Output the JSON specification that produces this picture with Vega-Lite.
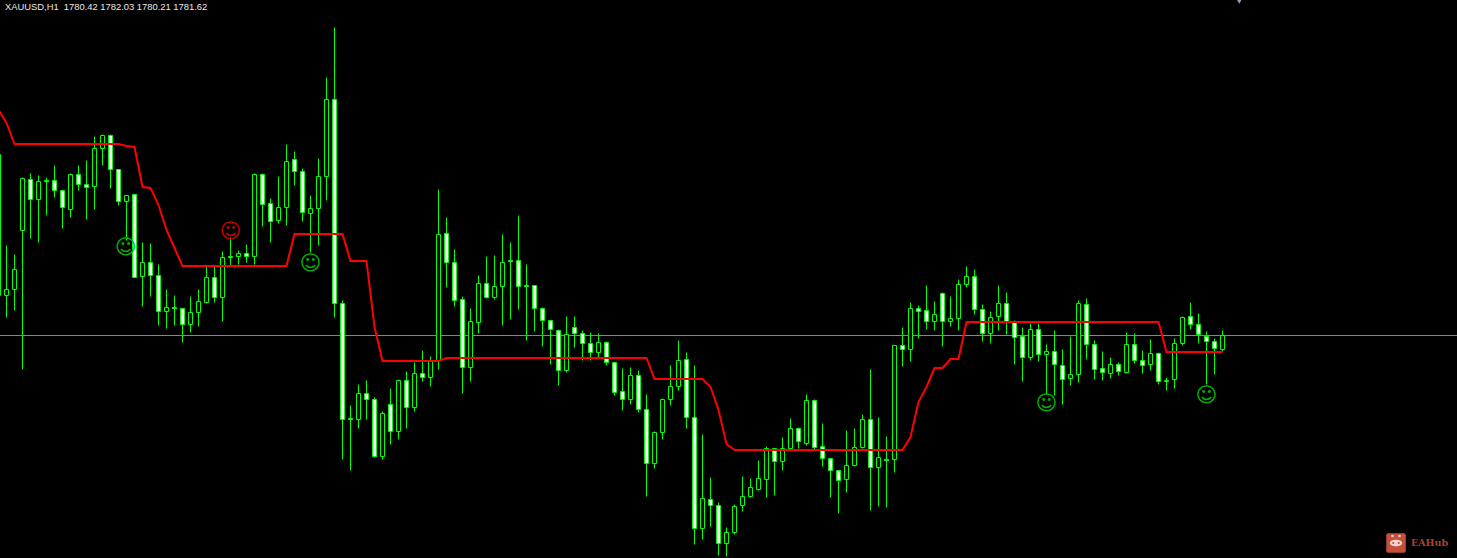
{"$schema":"https://vega.github.io/schema/vega-lite/v6.json","width":1457,"height":558,"padding":0,"autosize":"none","background":"#000000","config":{"view":{"stroke":null},"scale":{"continuousPadding":0}},
"datasets":{"candles":[
{"bar":-1,"open":1785.18,"high":1797.71,"low":1785.18,"close":1797.71,"ma":1801.62},
{"bar":0,"open":1785.18,"high":1789.62,"low":1783.22,"close":1785.71,"ma":1800.47},
{"bar":1,"open":1785.71,"high":1788.82,"low":1783.84,"close":1787.49,"ma":1798.6},
{"bar":2,"open":1790.96,"high":1795.67,"low":1778.6,"close":1795.58,"ma":1798.6},
{"bar":3,"open":1795.49,"high":1796.02,"low":1790.24,"close":1793.71,"ma":1798.6},
{"bar":4,"open":1793.71,"high":1795.84,"low":1789.89,"close":1795.31,"ma":1798.6},
{"bar":5,"open":1795.4,"high":1795.67,"low":1792.29,"close":1795.31,"ma":1798.6},
{"bar":6,"open":1795.4,"high":1796.73,"low":1793.89,"close":1794.51,"ma":1798.6},
{"bar":7,"open":1794.51,"high":1794.51,"low":1791.13,"close":1793.0,"ma":1798.6},
{"bar":8,"open":1792.82,"high":1796.02,"low":1792.11,"close":1795.93,"ma":1798.6},
{"bar":9,"open":1795.93,"high":1796.73,"low":1794.51,"close":1795.04,"ma":1798.6},
{"bar":10,"open":1795.04,"high":1797.18,"low":1791.93,"close":1794.78,"ma":1798.6},
{"bar":11,"open":1794.87,"high":1799.31,"low":1792.82,"close":1798.24,"ma":1798.6},
{"bar":12,"open":1798.24,"high":1799.49,"low":1796.73,"close":1799.4,"ma":1798.6},
{"bar":13,"open":1799.4,"high":1799.49,"low":1794.69,"close":1796.38,"ma":1798.6},
{"bar":14,"open":1796.38,"high":1796.38,"low":1793.18,"close":1793.53,"ma":1798.6},
{"bar":15,"open":1793.53,"high":1794.07,"low":1790.07,"close":1794.07,"ma":1798.38},
{"bar":16,"open":1794.16,"high":1794.16,"low":1786.78,"close":1786.78,"ma":1798.33},
{"bar":17,"open":1786.87,"high":1789.89,"low":1784.2,"close":1788.11,"ma":1794.78},
{"bar":18,"open":1788.11,"high":1789.8,"low":1785.09,"close":1786.96,"ma":1794.69},
{"bar":19,"open":1786.96,"high":1787.93,"low":1782.51,"close":1783.76,"ma":1793.18},
{"bar":20,"open":1783.76,"high":1785.71,"low":1782.24,"close":1784.11,"ma":1790.96},
{"bar":21,"open":1784.11,"high":1785.18,"low":1782.51,"close":1784.02,"ma":1789.36},
{"bar":22,"open":1784.02,"high":1784.02,"low":1781.0,"close":1782.6,"ma":1787.76},
{"bar":23,"open":1782.6,"high":1785.09,"low":1781.89,"close":1783.67,"ma":1787.76},
{"bar":24,"open":1783.67,"high":1785.71,"low":1782.42,"close":1784.64,"ma":1787.76},
{"bar":25,"open":1784.56,"high":1787.76,"low":1784.47,"close":1786.78,"ma":1787.76},
{"bar":26,"open":1786.78,"high":1787.76,"low":1784.56,"close":1785.0,"ma":1787.76},
{"bar":27,"open":1785.0,"high":1789.09,"low":1782.87,"close":1788.56,"ma":1787.76},
{"bar":28,"open":1788.64,"high":1790.33,"low":1787.84,"close":1788.56,"ma":1787.76},
{"bar":29,"open":1788.64,"high":1789.18,"low":1787.93,"close":1788.91,"ma":1787.76},
{"bar":30,"open":1788.91,"high":1789.71,"low":1788.11,"close":1788.64,"ma":1787.76},
{"bar":31,"open":1788.64,"high":1796.02,"low":1787.93,"close":1795.93,"ma":1787.76},
{"bar":32,"open":1795.93,"high":1796.02,"low":1791.31,"close":1793.27,"ma":1787.76},
{"bar":33,"open":1793.36,"high":1793.8,"low":1789.89,"close":1791.76,"ma":1787.76},
{"bar":34,"open":1791.84,"high":1795.76,"low":1791.58,"close":1793.0,"ma":1787.76},
{"bar":35,"open":1793.0,"high":1798.6,"low":1791.4,"close":1797.09,"ma":1787.76},
{"bar":36,"open":1797.27,"high":1797.98,"low":1794.96,"close":1796.2,"ma":1790.6},
{"bar":37,"open":1796.2,"high":1796.47,"low":1791.76,"close":1792.56,"ma":1790.6},
{"bar":38,"open":1792.47,"high":1794.07,"low":1789.0,"close":1792.91,"ma":1790.6},
{"bar":39,"open":1792.91,"high":1797.36,"low":1789.62,"close":1795.76,"ma":1790.6},
{"bar":40,"open":1795.76,"high":1804.56,"low":1793.62,"close":1802.6,"ma":1790.6},
{"bar":41,"open":1802.6,"high":1809.0,"low":1783.22,"close":1784.47,"ma":1790.6},
{"bar":42,"open":1784.47,"high":1784.73,"low":1770.6,"close":1774.16,"ma":1790.6},
{"bar":43,"open":1774.25,"high":1775.4,"low":1769.62,"close":1774.16,"ma":1788.2},
{"bar":44,"open":1774.16,"high":1777.27,"low":1773.36,"close":1776.47,"ma":1788.2},
{"bar":45,"open":1776.47,"high":1777.62,"low":1774.16,"close":1775.93,"ma":1788.2},
{"bar":46,"open":1775.93,"high":1776.11,"low":1770.78,"close":1770.87,"ma":1782.33},
{"bar":47,"open":1770.87,"high":1774.87,"low":1770.6,"close":1774.69,"ma":1779.31},
{"bar":48,"open":1775.49,"high":1776.91,"low":1771.93,"close":1773.09,"ma":1779.31},
{"bar":49,"open":1773.09,"high":1777.71,"low":1772.38,"close":1777.62,"ma":1779.31},
{"bar":50,"open":1777.62,"high":1778.42,"low":1773.36,"close":1775.22,"ma":1779.31},
{"bar":51,"open":1775.22,"high":1779.22,"low":1774.87,"close":1778.24,"ma":1779.31},
{"bar":52,"open":1778.24,"high":1780.29,"low":1777.53,"close":1777.89,"ma":1779.31},
{"bar":53,"open":1777.89,"high":1779.76,"low":1777.09,"close":1779.4,"ma":1779.31},
{"bar":54,"open":1779.4,"high":1794.6,"low":1778.6,"close":1790.6,"ma":1779.31},
{"bar":55,"open":1790.69,"high":1792.11,"low":1785.89,"close":1788.11,"ma":1779.58},
{"bar":56,"open":1788.11,"high":1789.27,"low":1784.2,"close":1784.73,"ma":1779.58},
{"bar":57,"open":1784.82,"high":1785.09,"low":1776.47,"close":1778.78,"ma":1779.58},
{"bar":58,"open":1778.78,"high":1784.02,"low":1777.53,"close":1782.87,"ma":1779.58},
{"bar":59,"open":1782.78,"high":1786.96,"low":1781.8,"close":1786.24,"ma":1779.58},
{"bar":60,"open":1786.24,"high":1788.64,"low":1784.91,"close":1785.0,"ma":1779.58},
{"bar":61,"open":1785.0,"high":1788.73,"low":1784.82,"close":1785.98,"ma":1779.58},
{"bar":62,"open":1785.98,"high":1790.6,"low":1782.51,"close":1788.11,"ma":1779.58},
{"bar":63,"open":1788.29,"high":1789.89,"low":1783.04,"close":1788.2,"ma":1779.58},
{"bar":64,"open":1788.29,"high":1792.29,"low":1783.93,"close":1785.98,"ma":1779.58},
{"bar":65,"open":1786.07,"high":1787.93,"low":1781.18,"close":1785.98,"ma":1779.58},
{"bar":66,"open":1786.07,"high":1786.07,"low":1781.98,"close":1784.02,"ma":1779.58},
{"bar":67,"open":1784.02,"high":1784.11,"low":1780.64,"close":1782.96,"ma":1779.58},
{"bar":68,"open":1782.96,"high":1782.96,"low":1779.04,"close":1782.16,"ma":1779.58},
{"bar":69,"open":1782.07,"high":1782.16,"low":1777.18,"close":1778.51,"ma":1779.58},
{"bar":70,"open":1778.51,"high":1783.31,"low":1778.33,"close":1781.71,"ma":1779.58},
{"bar":71,"open":1782.33,"high":1783.31,"low":1780.56,"close":1781.8,"ma":1779.58},
{"bar":72,"open":1781.8,"high":1782.07,"low":1779.4,"close":1780.91,"ma":1779.58},
{"bar":73,"open":1780.91,"high":1781.89,"low":1779.4,"close":1780.11,"ma":1779.58},
{"bar":74,"open":1780.11,"high":1781.8,"low":1779.58,"close":1781.0,"ma":1779.58},
{"bar":75,"open":1781.0,"high":1781.09,"low":1778.96,"close":1779.22,"ma":1779.58},
{"bar":76,"open":1779.22,"high":1779.22,"low":1776.29,"close":1776.56,"ma":1779.58},
{"bar":77,"open":1776.64,"high":1778.69,"low":1774.96,"close":1775.93,"ma":1779.58},
{"bar":78,"open":1775.93,"high":1778.78,"low":1775.49,"close":1778.07,"ma":1779.58},
{"bar":79,"open":1778.07,"high":1778.51,"low":1774.78,"close":1775.04,"ma":1779.58},
{"bar":80,"open":1775.04,"high":1776.38,"low":1767.31,"close":1770.24,"ma":1779.58},
{"bar":81,"open":1770.24,"high":1773.09,"low":1769.8,"close":1773.0,"ma":1777.71},
{"bar":82,"open":1773.0,"high":1776.02,"low":1772.38,"close":1775.93,"ma":1777.71},
{"bar":83,"open":1775.93,"high":1778.96,"low":1775.4,"close":1777.09,"ma":1777.71},
{"bar":84,"open":1777.09,"high":1781.18,"low":1776.73,"close":1779.4,"ma":1777.71},
{"bar":85,"open":1779.49,"high":1780.11,"low":1773.36,"close":1774.33,"ma":1777.71},
{"bar":86,"open":1774.33,"high":1778.96,"low":1763.04,"close":1764.47,"ma":1777.71},
{"bar":87,"open":1764.47,"high":1772.82,"low":1763.49,"close":1767.13,"ma":1777.71},
{"bar":88,"open":1767.04,"high":1769.0,"low":1764.64,"close":1766.51,"ma":1777.0},
{"bar":89,"open":1766.51,"high":1766.78,"low":1762.07,"close":1763.13,"ma":1774.96},
{"bar":90,"open":1763.13,"high":1764.56,"low":1761.98,"close":1764.11,"ma":1771.93},
{"bar":91,"open":1764.11,"high":1766.6,"low":1763.93,"close":1766.42,"ma":1771.4},
{"bar":92,"open":1766.51,"high":1769.09,"low":1765.98,"close":1767.31,"ma":1771.4},
{"bar":93,"open":1767.31,"high":1768.91,"low":1767.22,"close":1768.11,"ma":1771.4},
{"bar":94,"open":1767.93,"high":1770.51,"low":1767.84,"close":1768.91,"ma":1771.4},
{"bar":95,"open":1768.82,"high":1771.76,"low":1767.22,"close":1771.58,"ma":1771.4},
{"bar":96,"open":1771.58,"high":1771.58,"low":1767.4,"close":1770.42,"ma":1771.4},
{"bar":97,"open":1770.42,"high":1772.56,"low":1769.62,"close":1771.58,"ma":1771.4},
{"bar":98,"open":1771.58,"high":1774.24,"low":1771.4,"close":1773.36,"ma":1771.4},
{"bar":99,"open":1773.36,"high":1773.44,"low":1771.58,"close":1772.2,"ma":1771.4},
{"bar":100,"open":1772.02,"high":1776.38,"low":1771.84,"close":1775.84,"ma":1771.4},
{"bar":101,"open":1775.84,"high":1775.93,"low":1771.49,"close":1771.67,"ma":1771.4},
{"bar":102,"open":1771.76,"high":1773.8,"low":1769.98,"close":1770.69,"ma":1771.4},
{"bar":103,"open":1770.69,"high":1770.69,"low":1767.22,"close":1769.62,"ma":1771.4},
{"bar":104,"open":1769.62,"high":1769.62,"low":1765.8,"close":1768.73,"ma":1771.4},
{"bar":105,"open":1768.82,"high":1773.18,"low":1767.67,"close":1770.07,"ma":1771.4},
{"bar":106,"open":1770.07,"high":1773.36,"low":1769.98,"close":1771.67,"ma":1771.4},
{"bar":107,"open":1771.67,"high":1774.6,"low":1771.58,"close":1774.16,"ma":1771.4},
{"bar":108,"open":1774.16,"high":1778.6,"low":1766.07,"close":1769.89,"ma":1771.4},
{"bar":109,"open":1769.89,"high":1774.33,"low":1766.42,"close":1770.78,"ma":1771.4},
{"bar":110,"open":1770.6,"high":1772.64,"low":1766.33,"close":1770.51,"ma":1771.4},
{"bar":111,"open":1770.6,"high":1780.73,"low":1769.44,"close":1780.73,"ma":1771.4},
{"bar":112,"open":1780.73,"high":1782.33,"low":1778.87,"close":1780.38,"ma":1771.4},
{"bar":113,"open":1780.38,"high":1784.56,"low":1779.31,"close":1784.02,"ma":1772.56},
{"bar":114,"open":1784.02,"high":1784.29,"low":1781.36,"close":1783.76,"ma":1775.67},
{"bar":115,"open":1783.84,"high":1786.07,"low":1782.16,"close":1782.87,"ma":1777.0},
{"bar":116,"open":1782.87,"high":1784.64,"low":1782.07,"close":1783.49,"ma":1778.69},
{"bar":117,"open":1785.36,"high":1785.44,"low":1780.64,"close":1782.87,"ma":1778.69},
{"bar":118,"open":1782.87,"high":1785.09,"low":1782.42,"close":1783.13,"ma":1779.49},
{"bar":119,"open":1783.13,"high":1786.6,"low":1782.07,"close":1786.16,"ma":1779.49},
{"bar":120,"open":1786.16,"high":1787.76,"low":1785.89,"close":1786.87,"ma":1782.78},
{"bar":121,"open":1786.87,"high":1787.49,"low":1783.49,"close":1783.93,"ma":1782.78},
{"bar":122,"open":1783.93,"high":1784.38,"low":1781.09,"close":1781.8,"ma":1782.78},
{"bar":123,"open":1781.8,"high":1783.76,"low":1780.91,"close":1783.22,"ma":1782.78},
{"bar":124,"open":1783.31,"high":1786.07,"low":1782.07,"close":1784.47,"ma":1782.78},
{"bar":125,"open":1784.47,"high":1785.44,"low":1781.71,"close":1782.78,"ma":1782.78},
{"bar":126,"open":1782.78,"high":1782.96,"low":1779.04,"close":1781.44,"ma":1782.78},
{"bar":127,"open":1781.53,"high":1782.33,"low":1777.53,"close":1779.67,"ma":1782.78},
{"bar":128,"open":1779.67,"high":1782.69,"low":1779.4,"close":1782.16,"ma":1782.78},
{"bar":129,"open":1782.16,"high":1782.69,"low":1779.31,"close":1779.93,"ma":1782.78},
{"bar":130,"open":1779.93,"high":1780.82,"low":1776.38,"close":1780.2,"ma":1782.78},
{"bar":131,"open":1780.2,"high":1782.07,"low":1776.29,"close":1779.04,"ma":1782.78},
{"bar":132,"open":1778.96,"high":1780.38,"low":1775.49,"close":1777.71,"ma":1782.78},
{"bar":133,"open":1777.8,"high":1781.53,"low":1777.18,"close":1778.15,"ma":1782.78},
{"bar":134,"open":1778.15,"high":1784.73,"low":1777.44,"close":1784.47,"ma":1782.78},
{"bar":135,"open":1784.38,"high":1784.91,"low":1779.49,"close":1780.82,"ma":1782.78},
{"bar":136,"open":1780.82,"high":1781.18,"low":1777.71,"close":1778.6,"ma":1782.78},
{"bar":137,"open":1778.69,"high":1780.2,"low":1777.62,"close":1778.33,"ma":1782.78},
{"bar":138,"open":1778.24,"high":1779.67,"low":1777.8,"close":1779.04,"ma":1782.78},
{"bar":139,"open":1779.04,"high":1779.22,"low":1778.07,"close":1778.42,"ma":1782.78},
{"bar":140,"open":1778.33,"high":1781.89,"low":1778.24,"close":1780.82,"ma":1782.78},
{"bar":141,"open":1780.82,"high":1781.8,"low":1779.13,"close":1779.4,"ma":1782.78},
{"bar":142,"open":1779.4,"high":1780.29,"low":1778.24,"close":1778.96,"ma":1782.78},
{"bar":143,"open":1779.04,"high":1781.27,"low":1778.51,"close":1780.02,"ma":1782.78},
{"bar":144,"open":1780.02,"high":1780.11,"low":1777.27,"close":1777.53,"ma":1782.78},
{"bar":145,"open":1777.53,"high":1777.89,"low":1776.73,"close":1777.62,"ma":1780.11},
{"bar":146,"open":1777.71,"high":1781.36,"low":1776.91,"close":1780.91,"ma":1780.11},
{"bar":147,"open":1780.91,"high":1783.31,"low":1780.73,"close":1783.22,"ma":1780.11},
{"bar":148,"open":1783.31,"high":1784.56,"low":1782.16,"close":1782.6,"ma":1780.11},
{"bar":149,"open":1782.6,"high":1783.58,"low":1780.91,"close":1781.71,"ma":1780.11},
{"bar":150,"open":1781.53,"high":1781.98,"low":1777.27,"close":1781.09,"ma":1780.11},
{"bar":151,"open":1781.09,"high":1781.36,"low":1778.15,"close":1780.47,"ma":1780.11},
{"bar":152,"open":1780.42,"high":1782.03,"low":1780.21,"close":1781.62,"ma":1780.11}
],
"signals":[
{"bar":14.9,"price":1789.37,"mood":"green"},
{"bar":28,"price":1790.8,"mood":"red"},
{"bar":38,"price":1787.95,"mood":"green"},
{"bar":130,"price":1775.51,"mood":"green"},
{"bar":150,"price":1776.22,"mood":"green"}
]},
"data":{"name":"candles"},
"layer":[
{"data":{"values":[{"price":1781.62}]},"mark":{"type":"rule","color":"#778899","strokeWidth":1,"yOffset":0.5},"encoding":{"y":{"field":"price","type":"quantitative","axis":null,"scale":{"domain":[1761.8,1811.4],"nice":false,"zero":false,"round":true}}}},
{"mark":{"type":"rule","color":"#00ff00","strokeWidth":1,"yOffset":0.5,"y2Offset":0.5},"encoding":{
"x":{"field":"bar","type":"quantitative","axis":null,"scale":{"domain":[-0.8125,181.3125],"nice":false,"zero":false,"padding":0}},
"y":{"field":"low","type":"quantitative","axis":null,"scale":{"domain":[1761.8,1811.4],"nice":false,"zero":false,"round":true}},"y2":{"field":"high"}}},
{"mark":{"type":"bar","orient":"vertical","size":4,"stroke":"#00ff00","strokeWidth":1,"yOffset":0.5,"y2Offset":0.5},"encoding":{
"x":{"field":"bar","type":"quantitative","axis":null,"scale":{"domain":[-0.8125,181.3125],"nice":false,"zero":false,"padding":0}},
"y":{"field":"open","type":"quantitative","axis":null,"scale":{"domain":[1761.8,1811.4],"nice":false,"zero":false,"round":true}},"y2":{"field":"close"},
"fill":{"condition":{"test":"datum.close > datum.open","value":"#000000"},"value":"#ffffff"}}},
{"mark":{"type":"line","color":"#ff0000","strokeWidth":2,"interpolate":"linear"},"encoding":{
"x":{"field":"bar","type":"quantitative","axis":null,"scale":{"domain":[-0.8125,181.3125],"nice":false,"zero":false,"padding":0}},
"y":{"field":"ma","type":"quantitative","axis":null,"scale":{"domain":[1761.8,1811.4],"nice":false,"zero":false,"round":true}}}},
{"data":{"name":"signals"},"mark":{"type":"text","font":"DejaVu Sans","fontSize":21,"align":"center","baseline":"middle"},"encoding":{
"x":{"field":"bar","type":"quantitative","axis":null,"scale":{"domain":[-0.8125,181.3125],"nice":false,"zero":false,"padding":0}},
"y":{"field":"price","type":"quantitative","axis":null,"scale":{"domain":[1761.8,1811.4],"nice":false,"zero":false,"round":true}},
"text":{"value":"☺"},
"color":{"field":"mood","type":"nominal","legend":null,"scale":{"domain":["green","red"],"range":["#00b400","#c80000"]}}}},
{"data":{"values":[{"bar":-0.19,"price":1810.78,"label":"XAUUSD,H1\u00a0\u00a01780.42 1782.03 1780.21 1781.62"}]},"mark":{"type":"text","font":"Liberation Sans","fontSize":9.4,"align":"left","baseline":"middle","color":"#e8e8e8"},"encoding":{
"x":{"field":"bar","type":"quantitative","axis":null,"scale":{"domain":[-0.8125,181.3125],"nice":false,"zero":false,"padding":0}},
"y":{"field":"price","type":"quantitative","axis":null,"scale":{"domain":[1761.8,1811.4],"nice":false,"zero":false,"round":true}},
"text":{"field":"label"}}},
{"data":{"values":[{"bar":154.1,"price":1811.31}]},"mark":{"type":"point","shape":"triangle-down","filled":true,"size":40,"color":"#8fa3b8","opacity":1},"encoding":{
"x":{"field":"bar","type":"quantitative","axis":null,"scale":{"domain":[-0.8125,181.3125],"nice":false,"zero":false,"padding":0}},
"y":{"field":"price","type":"quantitative","axis":null,"scale":{"domain":[1761.8,1811.4],"nice":false,"zero":false,"round":true}}}},
{"data":{"values":[{"bar":173.69,"price":1763.13}]},"mark":{"type":"point","shape":"M-0.8,-1H0.8Q1,-1 1,-0.8V0.8Q1,1 0.8,1H-0.8Q-1,1 -1,0.8V-0.8Q-1,-1 -0.8,-1Z","filled":true,"size":380,"color":"#c4503a","opacity":1},"encoding":{
"x":{"field":"bar","type":"quantitative","axis":null,"scale":{"domain":[-0.8125,181.3125],"nice":false,"zero":false,"padding":0}},
"y":{"field":"price","type":"quantitative","axis":null,"scale":{"domain":[1761.8,1811.4],"nice":false,"zero":false,"round":true}}}},
{"data":{"values":[{"bar":173.69,"price":1763.13}]},"mark":{"type":"point","shape":"M-1,0C-1,-0.7 1,-0.7 1,0C1,0.7 -1,0.7 -1,0Z","filled":true,"size":150,"color":"#eed5cf","opacity":1},"encoding":{
"x":{"field":"bar","type":"quantitative","axis":null,"scale":{"domain":[-0.8125,181.3125],"nice":false,"zero":false,"padding":0}},
"y":{"field":"price","type":"quantitative","axis":null,"scale":{"domain":[1761.8,1811.4],"nice":false,"zero":false,"round":true}}}},
{"data":{"values":[{"bar":173.35,"price":1763.13},{"bar":174.03,"price":1763.13}]},"mark":{"type":"point","shape":"circle","filled":true,"size":5,"color":"#c4503a","opacity":1},"encoding":{
"x":{"field":"bar","type":"quantitative","axis":null,"scale":{"domain":[-0.8125,181.3125],"nice":false,"zero":false,"padding":0}},
"y":{"field":"price","type":"quantitative","axis":null,"scale":{"domain":[1761.8,1811.4],"nice":false,"zero":false,"round":true}}}},
{"data":{"values":[{"bar":173.25,"price":1763.75},{"bar":174.13,"price":1763.75}]},"mark":{"type":"point","shape":"circle","filled":true,"size":6,"color":"#eed5cf","opacity":1},"encoding":{
"x":{"field":"bar","type":"quantitative","axis":null,"scale":{"domain":[-0.8125,181.3125],"nice":false,"zero":false,"padding":0}},
"y":{"field":"price","type":"quantitative","axis":null,"scale":{"domain":[1761.8,1811.4],"nice":false,"zero":false,"round":true}}}},
{"data":{"values":[{"bar":175.56,"price":1763.13,"label":"EAHub"}]},"mark":{"type":"text","font":"DejaVu Serif","fontWeight":"bold","fontSize":9.5,"align":"left","baseline":"middle","color":"#a8452f"},"encoding":{
"x":{"field":"bar","type":"quantitative","axis":null,"scale":{"domain":[-0.8125,181.3125],"nice":false,"zero":false,"padding":0}},
"y":{"field":"price","type":"quantitative","axis":null,"scale":{"domain":[1761.8,1811.4],"nice":false,"zero":false,"round":true}},
"text":{"field":"label"}}}
]}
